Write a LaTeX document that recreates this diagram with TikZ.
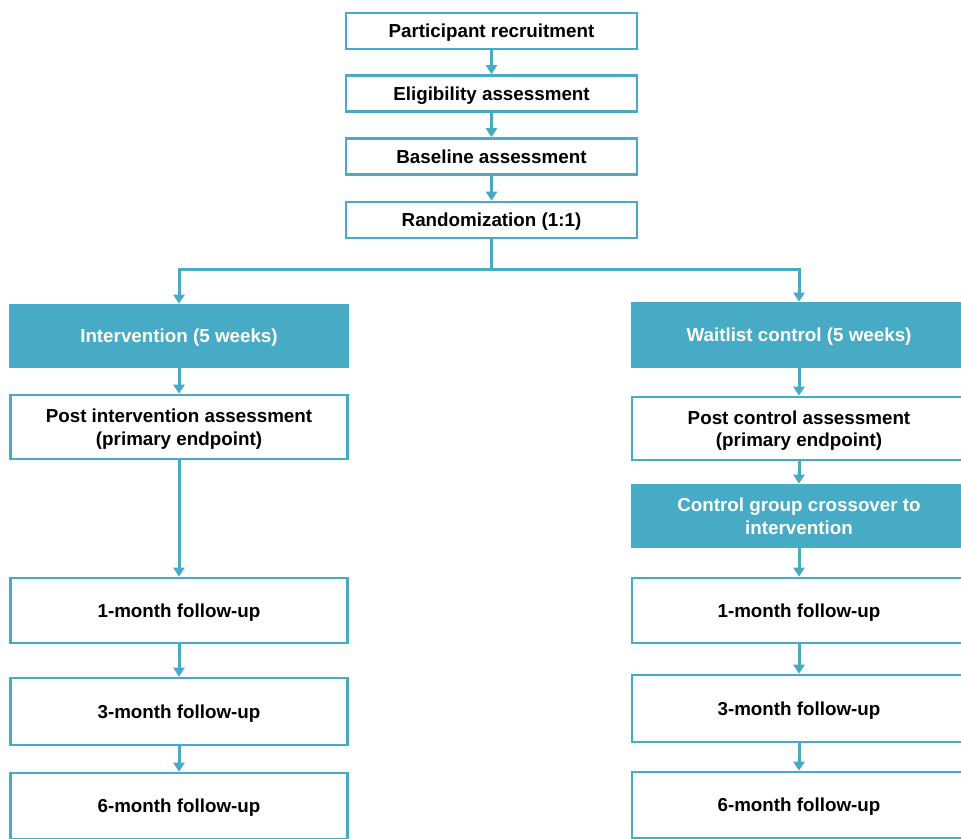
\documentclass[tikz,border=0pt]{standalone}
\usepackage{fontspec}
\setmainfont{Liberation Sans}
\usetikzlibrary{arrows.meta}
\definecolor{teal}{HTML}{47ABC6}
\tikzset{
  x=1pt, y=-1pt,
  box/.style={draw=teal, line width=2.6pt, fill=white, inner sep=2pt, align=center,
    font=\fontsize{18.8}{22.5}\selectfont\bfseries, text=black, text depth=0pt},
  topbox/.style={box, minimum width=291pt, minimum height=36pt},
  lbox/.style={box, minimum width=337pt},
  rbox/.style={box, minimum width=334pt},
  fbox/.style={fill=teal, text=white},
  conn/.style={draw=teal, line width=3pt},
  arr/.style={conn, -{Triangle[width=11pt,length=9pt]}},
}
\begin{document}
\begin{tikzpicture}
\useasboundingbox (0,0) rectangle (961,838);
\clip (0,0) rectangle (961,838);
\fill[white] (0,0) rectangle (961,838);

\node[topbox] (rec) at (491.5,31) {Participant recruitment};
\node[topbox] (eli) at (491.5,93.5) {Eligibility assessment};
\node[topbox] (bas) at (491.5,156.5) {Baseline assessment};
\node[topbox] (ran) at (491.5,220) {Randomization (1:1)};

\node[lbox, fbox, minimum height=62pt] (int) at (179,336) {Intervention (5 weeks)};
\node[lbox, minimum height=64pt] (pint) at (179,427) {Post intervention assessment\\(primary endpoint)};
\node[lbox, minimum height=65pt] (l1) at (179,610.5) {1-month follow-up};
\node[lbox, minimum height=67pt] (l3) at (179,711.5) {3-month follow-up};
\node[lbox, minimum height=66pt] (l6) at (179,806) {6-month follow-up};

\node[rbox, fbox, minimum height=64pt] (wait) at (799,335) {Waitlist control (5 weeks)};
\node[rbox, minimum height=63pt] (pcon) at (799,428.5) {Post control assessment\\(primary endpoint)};
\node[rbox, fbox, minimum height=62pt] (cross) at (799,516) {Control group crossover to\\intervention};
\node[rbox, minimum height=65pt] (r1) at (799,610.5) {1-month follow-up};
\node[rbox, minimum height=67pt] (r3) at (799,708.5) {3-month follow-up};
\node[rbox, minimum height=66pt] (r6) at (799,805) {6-month follow-up};

\coordinate (split) at (491.5,269);

\draw[arr] (rec) -- (eli);
\draw[arr] (eli) -- (bas);
\draw[arr] (bas) -- (ran);
\draw[conn] (ran.south) -- (split);
\draw[arr] (split) -| (int.north);
\draw[arr] (split) -| (wait.north);

\draw[arr] (int) -- (pint);
\draw[arr] (pint) -- (l1);
\draw[arr] (l1) -- (l3);
\draw[arr] (l3) -- (l6);

\draw[arr] (wait) -- (pcon);
\draw[arr] (pcon) -- (cross);
\draw[arr] (cross) -- (r1);
\draw[arr] (r1) -- (r3);
\draw[arr] (r3) -- (r6);
\end{tikzpicture}
\end{document}
